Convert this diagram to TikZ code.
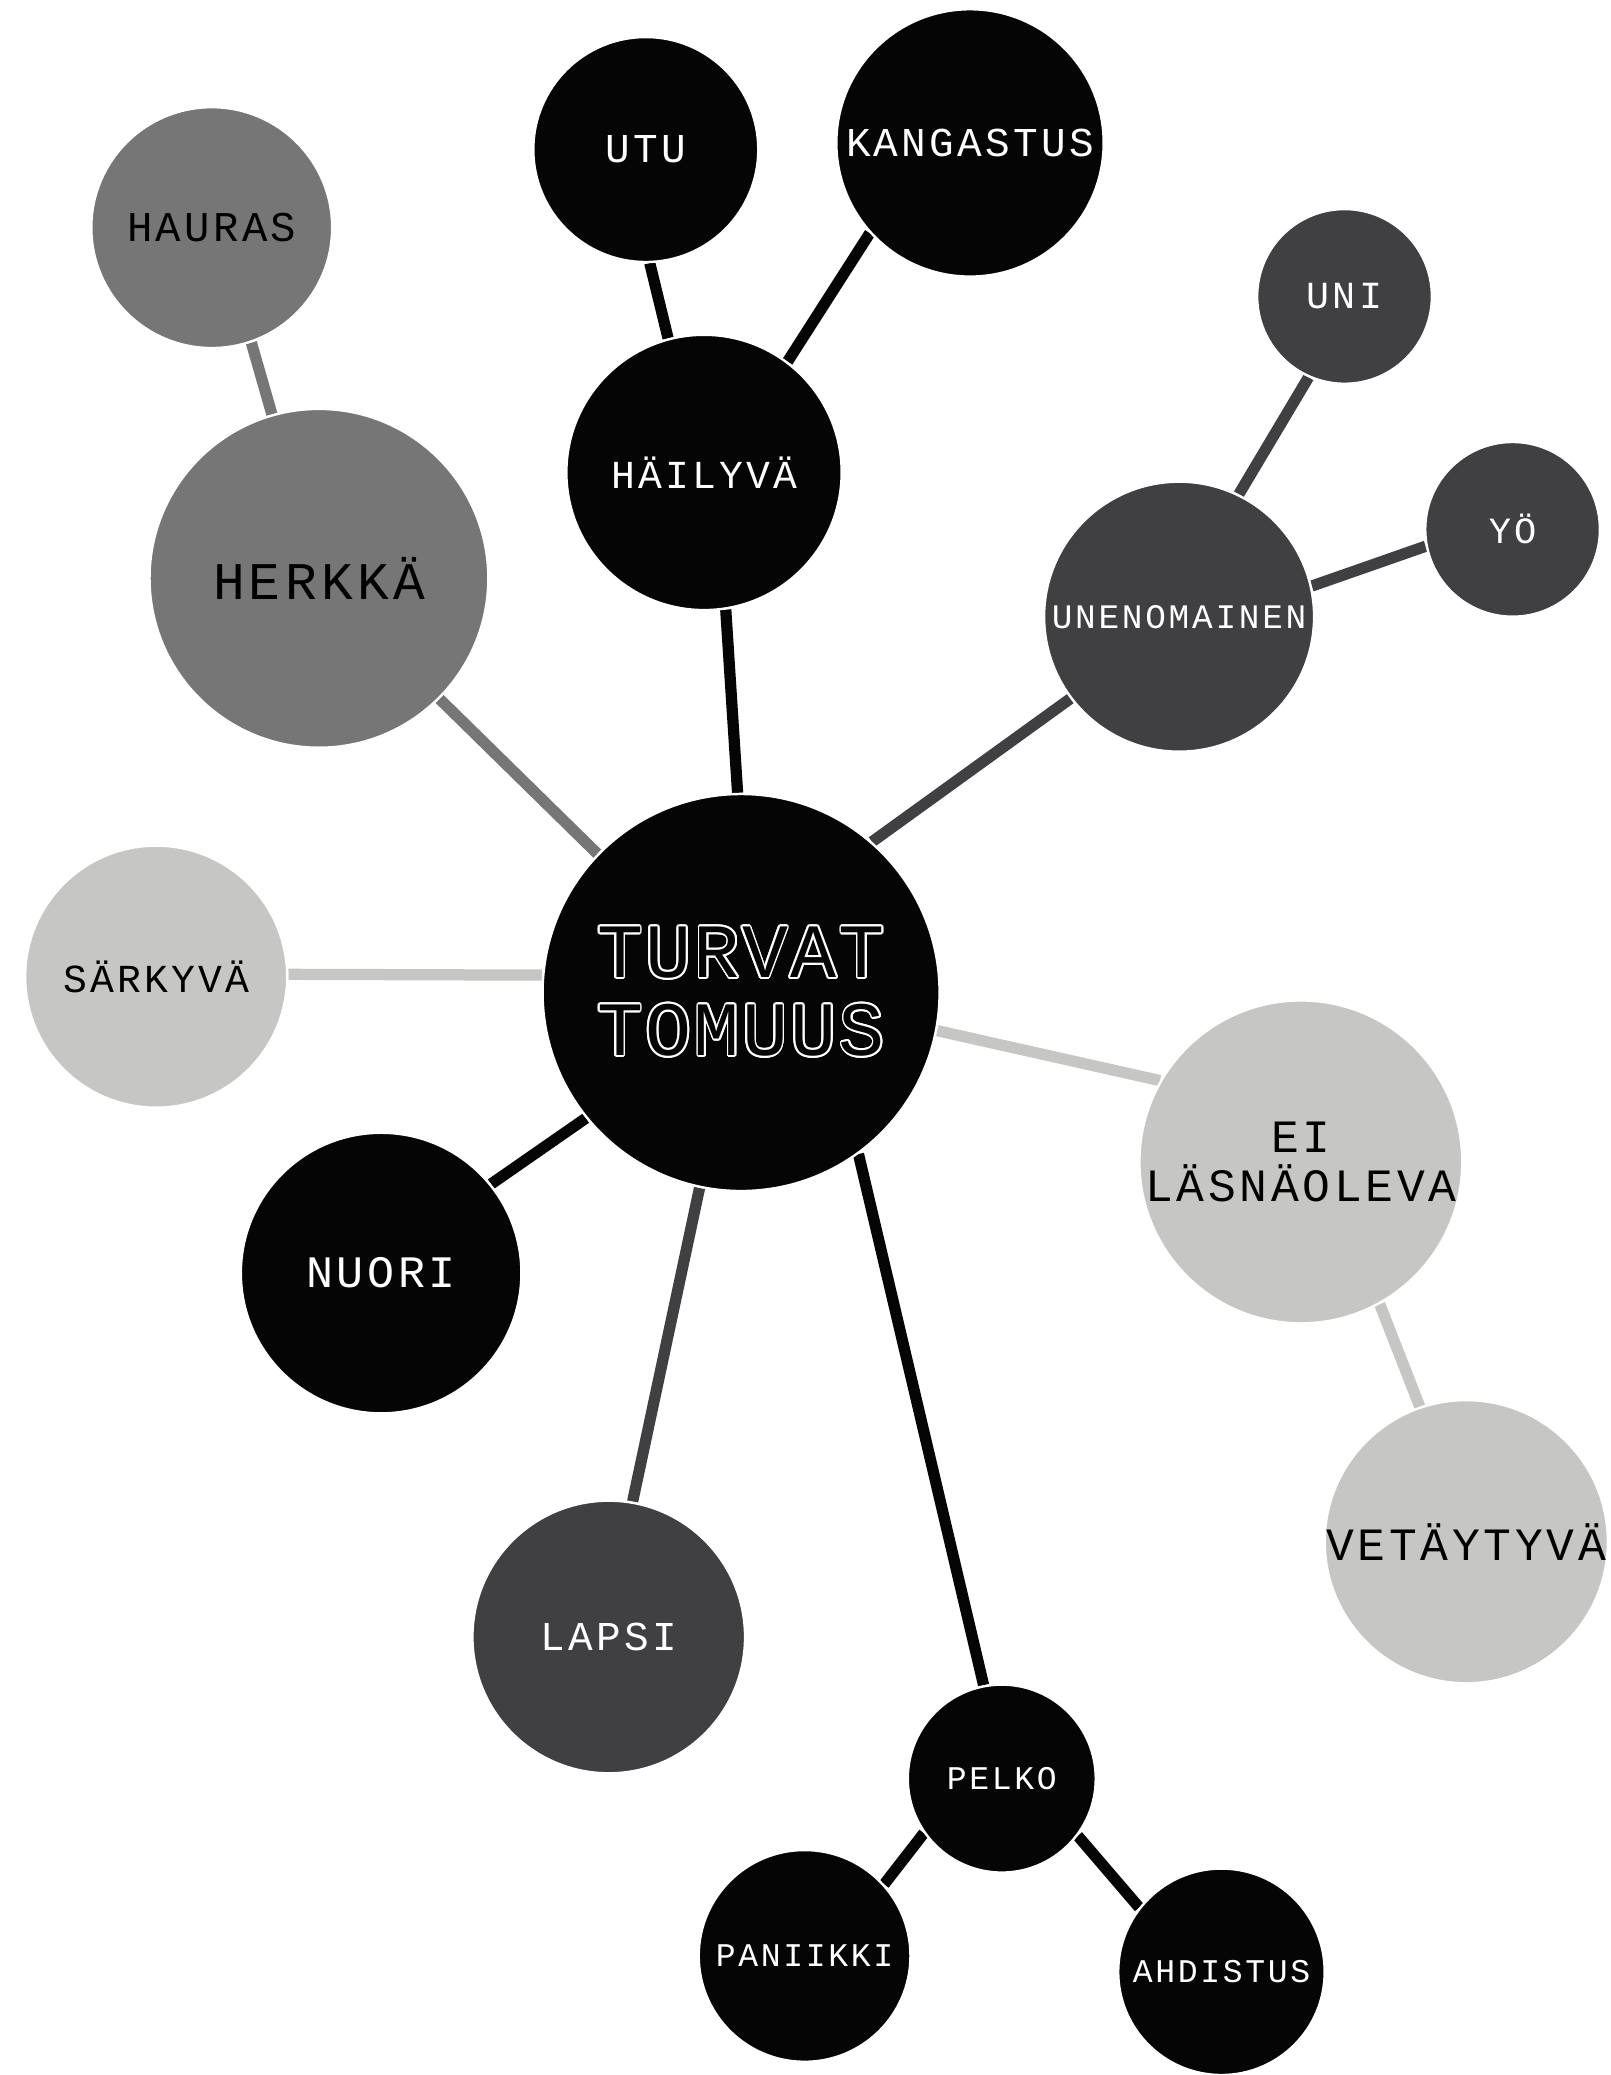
\documentclass[tikz,border=0pt]{standalone}
\usepackage{fontspec}
\setmainfont{Liberation Mono}[LetterSpace=8]
\newfontfamily\bigfont{Liberation Mono}[LetterSpace=3]
\usepackage[copies]{contour}
\contourlength{1.4pt}
\definecolor{cblack}{HTML}{050505}
\definecolor{cgray}{HTML}{767676}
\definecolor{cdark}{HTML}{404043}
\definecolor{clight}{HTML}{C6C6C4}
\newcommand\fsz[2]{\fontsize{#1}{#2}\selectfont}
\pgfdeclarelayer{back}
\pgfdeclarelayer{bg}
\pgfsetlayers{back,bg,main}
\tikzset{
  bub/.style={circle, draw=white, line width=1.8pt, inner sep=0pt, align=center, minimum size=#1},
  kblack/.style={fill=cblack, text=white},
  kgray/.style={fill=cgray, text=black},
  kdark/.style={fill=cdark, text=white},
  klight/.style={fill=clight, text=black},
  link/.style={line width=8.5pt},
}
\begin{document}
\begin{tikzpicture}[x=1pt,y=-1pt]
\useasboundingbox (0,0) rectangle (1217,1568);
\begin{pgfonlayer}{back}
\fill[white] (0,0) rectangle (1217,1568);
\end{pgfonlayer}
% central node
\node[bub=300pt, kblack, font=\bigfont\fsz{58}{60}] (turv) at (560,750)
  {\contour{white}{\textcolor{cblack}{TURVAT}}\\[-1pt]\contour{white}{\textcolor{cblack}{TOMUUS}}};
% black group
\node[bub=208pt, kblack, font=\fsz{30}{32}] (hail) at (532,357) {HÄILYVÄ};
\node[bub=170pt, kblack, font=\fsz{31}{33}] (utu) at (488,113) {UTU};
\node[bub=202pt, kblack, font=\fsz{31}{33}] (kang) at (733,108) {KANGASTUS};
% gray group
\node[bub=182pt, kgray, font=\fsz{32}{34}] (haur) at (160,172) {HAURAS};
\node[bub=256pt, kgray, font=\fsz{40}{42}] (herk) at (241,437) {HERKKÄ};
% dark group
\node[bub=132pt, kdark, font=\fsz{29}{31}] (uni) at (1016,224) {UNI};
\node[bub=132pt, kdark, font=\fsz{28}{30}] (yo) at (1143,400) {YÖ};
\node[bub=204pt, kdark, font=\fsz{26}{28}] (unen) at (891,466) {UNENOMAINEN};
% light group
\node[bub=198pt, klight, font=\fsz{30}{32}] (sark) at (118,738) {SÄRKYVÄ};
\node[bub=244pt, klight, font=\fsz{35}{37}] (ei) at (983,878) {EI\\LÄSNÄOLEVA};
\node[bub=214pt, klight, font=\fsz{35}{37}] (vet) at (1108,1165) {VETÄYTYVÄ};
% lower
\node[bub=212pt, kblack, font=\fsz{34}{36}] (nuori) at (288,962) {NUORI};
\node[bub=206pt, kdark, font=\fsz{31}{33}] (lapsi) at (460,1237) {LAPSI};
\node[bub=142pt, kblack, font=\fsz{25}{27}] (pelko) at (757,1344) {PELKO};
\node[bub=160pt, kblack, font=\fsz{25}{27}] (pan) at (608,1478) {PANIIKKI};
\node[bub=156pt, kblack, font=\fsz{25}{27}] (ahd) at (923,1490) {AHDISTUS};
% connectors
\begin{pgfonlayer}{bg}
\draw[link, cblack] (utu.-88.7) -- (hail.105.6);
\draw[link, cblack] (kang.-138.1) -- (hail.53.3);
\draw[link, cblack] (hail.-81.3) -- (turv.91.1);
\draw[link, cgray] (haur.-71.6) -- (herk.106.2);
\draw[link, cgray] (herk.-45.6) -- (turv.136.8);
\draw[link, cdark] (uni.-114.7) -- (unen.64.7);
\draw[link, cdark] (yo.-169.4) -- (unen.13);
\draw[link, cdark] (unen.-143.7) -- (turv.49.7);
\draw[link, clight] (sark.1.7) -- (turv.175.4);
\draw[link, clight] (turv.-11.3) -- (ei.150.9);
\draw[link, clight] (ei.-61) -- (vet.109.4);
\draw[link, cblack] (nuori.39.1) -- (turv.-141);
\draw[link, cdark] (lapsi.80) -- (turv.-102.6);
\draw[link, cblack] (pelko.101.6) -- (turv.-54.8);
\draw[link, cblack] (pan.42.4) -- (pelko.-145.5);
\draw[link, cblack] (ahd.142.4) -- (pelko.-37.5);
\end{pgfonlayer}
\end{tikzpicture}
\end{document}
